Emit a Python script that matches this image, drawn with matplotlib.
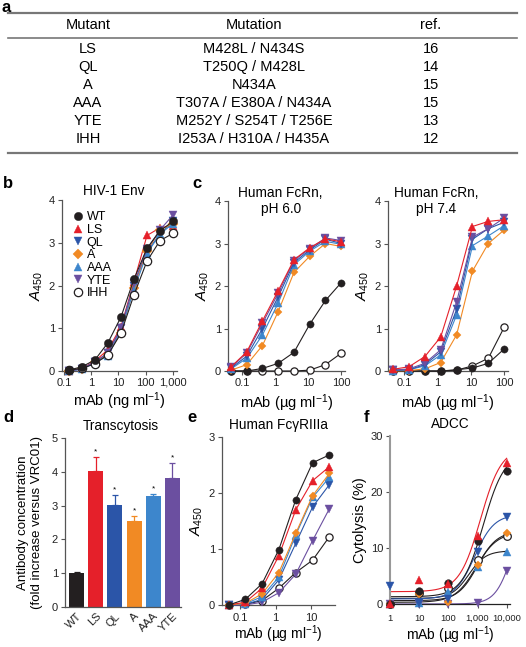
import matplotlib.pyplot as plt
import numpy as np
from matplotlib.lines import Line2D
from matplotlib.ticker import LogLocator, NullFormatter, FixedLocator, FixedFormatter

# ================= fonts =================
plt.rcParams['font.family'] = 'Liberation Sans'
plt.rcParams['mathtext.fontset'] = 'custom'
plt.rcParams['mathtext.rm'] = 'Liberation Sans'
plt.rcParams['mathtext.it'] = 'Liberation Sans:italic'
plt.rcParams['axes.linewidth'] = 0.9
plt.rcParams['axes.edgecolor'] = '#555555'
plt.rcParams['xtick.color'] = '#555555'
plt.rcParams['ytick.color'] = '#555555'
plt.rcParams['xtick.labelcolor'] = '#222222'
plt.rcParams['ytick.labelcolor'] = '#222222'
plt.rcParams['xtick.major.size'] = 3
plt.rcParams['ytick.major.size'] = 3
plt.rcParams['xtick.minor.size'] = 1.8
plt.rcParams['xtick.labelsize'] = 8
plt.rcParams['ytick.labelsize'] = 8

# ================= data =================
# a: table
table_header = ['Mutant', 'Mutation', 'ref.']
table_mutants = ['LS', 'QL', 'A', 'AAA', 'YTE', 'IHH']
table_mutations = ['M428L / N434S', 'T250Q / M428L', 'N434A',
                   'T307A / E380A / N434A', 'M252Y / S254T / T256E',
                   'I253A / H310A / H435A']
table_refs = ['16', '14', '15', '15', '13', '12']

mutants = ['WT', 'LS', 'QL', 'A', 'AAA', 'YTE', 'IHH']
colors = ['#231f20', '#e5202a', '#2b55a8', '#f18a24', '#3d86cc', '#6b4fa0', '#231f20']
markers = ['o', '^', 'v', 'D', '^', 'v', 'o']

# b: HIV-1 Env binding (ng/ml)
env_conc = [0.15, 0.46, 1.37, 4.1, 12.3, 37, 111, 333, 1000]
env_a450 = [
    [0.02, 0.10, 0.26, 0.66, 1.26, 2.15, 2.87, 3.28, 3.50],  # WT
    [0.01, 0.06, 0.23, 0.50, 1.03, 2.09, 3.17, 3.35, 3.40],  # LS
    [0.00, 0.05, 0.20, 0.42, 1.00, 2.00, 2.80, 3.20, 3.50],  # QL
    [0.00, 0.05, 0.20, 0.38, 0.90, 1.95, 2.80, 3.30, 3.45],  # A
    [0.00, 0.04, 0.20, 0.35, 0.95, 1.90, 2.75, 3.20, 3.45],  # AAA
    [0.00, 0.05, 0.22, 0.42, 1.00, 2.05, 2.85, 3.30, 3.65],  # YTE
    [0.02, 0.06, 0.17, 0.38, 0.88, 1.78, 2.57, 3.05, 3.22],  # IHH
]

# c: human FcRn (ug/ml)
fcrn_conc = [0.046, 0.137, 0.41, 1.23, 3.7, 11.1, 33.3, 100]
fcrn_ph60 = [
    [0.00, 0.00, 0.06, 0.18, 0.44, 1.10, 1.66, 2.08],  # WT
    [0.10, 0.45, 1.18, 1.89, 2.62, 2.90, 3.11, 3.04],  # LS
    [0.07, 0.35, 1.00, 1.75, 2.55, 2.85, 3.10, 3.00],  # QL
    [0.02, 0.15, 0.60, 1.40, 2.32, 2.70, 3.00, 2.93],  # A
    [0.05, 0.30, 0.85, 1.60, 2.50, 2.82, 3.05, 2.98],  # AAA
    [0.09, 0.42, 1.12, 1.83, 2.60, 2.88, 3.13, 3.07],  # YTE
    [0.00, 0.00, 0.00, 0.00, 0.00, 0.02, 0.15, 0.42],  # IHH
]
fcrn_ph74 = [
    [0.00, 0.00, 0.00, 0.00, 0.03, 0.07, 0.18, 0.52],  # WT
    [0.04, 0.10, 0.34, 0.80, 2.00, 3.40, 3.52, 3.56],  # LS
    [0.02, 0.03, 0.15, 0.45, 1.45, 3.10, 3.35, 3.50],  # QL
    [0.00, 0.01, 0.05, 0.20, 0.85, 2.35, 3.00, 3.32],  # A
    [0.01, 0.03, 0.12, 0.38, 1.32, 2.95, 3.18, 3.42],  # AAA
    [0.02, 0.05, 0.18, 0.50, 1.62, 3.15, 3.35, 3.60],  # YTE
    [0.00, 0.00, 0.00, 0.00, 0.02, 0.12, 0.30, 1.03],  # IHH
]

# d: transcytosis
bar_labels = ['WT', 'LS', 'QL', 'A', 'AAA', 'YTE']
transcytosis_mean = [1.00, 4.02, 3.02, 2.55, 3.27, 3.83]
transcytosis_err = [0.04, 0.42, 0.28, 0.13, 0.07, 0.42]

# e: human FcgRIIIa (ug/ml)
fcgr_conc = [0.046, 0.137, 0.41, 1.23, 3.7, 11.1, 33.3]
fcgr_a450 = [
    [0.00, 0.10, 0.38, 0.99, 1.88, 2.54, 2.68],  # WT
    [0.00, 0.05, 0.30, 0.88, 1.70, 2.22, 2.47],  # LS
    [0.00, 0.01, 0.10, 0.45, 1.10, 1.75, 2.15],  # QL
    [0.00, 0.03, 0.20, 0.58, 1.28, 1.95, 2.35],  # A
    [0.00, 0.02, 0.15, 0.50, 1.25, 1.92, 2.28],  # AAA
    [0.00, 0.00, 0.05, 0.22, 0.55, 1.15, 1.72],  # YTE
    [0.00, 0.01, 0.08, 0.30, 0.58, 0.80, 1.22],  # IHH
]

# f: ADCC
adcc_conc = [1, 10, 100, 1000, 10000]
adcc_lysis = [
    [0.0, 2.3, 3.7, 11.2, 23.8],  # WT
    [0.0, 4.3, 3.5, 12.2, 25.2],  # LS
    [3.2, 0.2, 0.9, 9.2, 15.6],   # QL
    [0.0, 1.8, 0.3, 6.9, 12.6],   # A
    [0.0, 0.2, 2.1, 6.6, 9.2],    # AAA
    [0.0, 0.0, 0.0, 0.2, 5.9],    # YTE
    [0.0, 1.9, 2.9, 7.8, 12.1],   # IHH
]
# sigmoidal fit parameters
adcc_bottom = [1.3, 2.2, 0.9, 0.6, 1.0, 0.0, 0.3]
adcc_top = [27.0, 28.0, 16.0, 13.0, 9.5, 18.0, 12.8]
adcc_logec50 = [3.2, 3.1, 2.9, 3.0, 2.7, 4.2, 2.95]
adcc_hill = [1.2, 1.2, 1.3, 1.3, 1.5, 1.5, 1.2]
adcc_line_colors = ['#231f20', '#e5202a', '#2b55a8', '#231f20', '#231f20', '#6b4fa0', '#231f20']

# ================= figure =================
W, H = 526, 647
fig = plt.figure(figsize=(W / 100, H / 100), dpi=100)


def px_axes(left, right, top, bottom):
    return fig.add_axes([left / W, 1 - bottom / H, (right - left) / W, (bottom - top) / H])


def style(ax):
    for s in ['top', 'right']:
        ax.spines[s].set_visible(False)
    ax.tick_params(which='both', direction='out', pad=2)


def marker_kw(i, ms):
    if mutants[i] == 'IHH':
        return dict(marker='o', ms=ms, mfc='white', mec='#231f20', mew=0.9)
    ms_i = ms * 0.8 if markers[i] == 'D' else ms
    return dict(marker=markers[i], ms=ms_i, mfc=colors[i], mec=colors[i], mew=0.3)


def letter(x, y, s):
    fig.text(x / W, 1 - y / H, s, fontsize=12, fontweight='bold', va='center', ha='left')


# ----------------- a: table -----------------
letter(2, 8, 'a')
x_cols = [88, 254, 431]
for xc, t in zip(x_cols, table_header):
    fig.text(xc / W, 1 - 25 / H, t, ha='center', va='center', fontsize=10.5)
rows = list(zip(table_mutants, table_mutations, table_refs))
for r, row in enumerate(rows):
    y = 49 + r * 18
    for xc, t in zip(x_cols, row):
        fig.text(xc / W, 1 - y / H, t, ha='center', va='center', fontsize=10.5)
for y, lw in [(13, 1.6), (38, 1.2), (153, 1.6)]:
    fig.add_artist(Line2D([8 / W, 517 / W], [1 - y / H, 1 - y / H], color='#777777', lw=lw))

# ----------------- b: HIV-1 Env -----------------
letter(3, 184, 'b')
axb = px_axes(62, 177, 200, 371)
style(axb)
for i in range(len(mutants)):
    axb.plot(env_conc, env_a450[i], color=colors[i], lw=0.8, clip_on=False,
             zorder=3 + (i == 0), **marker_kw(i, 6))
axb.set_xscale('log')
axb.set_xlim(0.085, 1400)
axb.set_ylim(0, 4)
axb.set_yticks([0, 1, 2, 3, 4])
axb.xaxis.set_major_locator(FixedLocator([0.1, 1, 10, 100, 1000]))
axb.xaxis.set_major_formatter(FixedFormatter(['0.1', '1', '10', '100', '1,000']))
axb.xaxis.set_minor_locator(LogLocator(base=10, subs=np.arange(2, 10)))
axb.xaxis.set_minor_formatter(NullFormatter())
axb.set_ylabel(r'$\mathit{A}_{450}$', fontsize=11, labelpad=3)
axb.set_xlabel(r'mAb (ng ml$^{-1}$)', fontsize=10.5, labelpad=2)
axb.text(0.45, 1.05, 'HIV-1 Env', transform=axb.transAxes, ha='center', va='center', fontsize=9.8)
handles = [Line2D([], [], ls='none', **marker_kw(i, 6)) for i in range(len(mutants))]
axb.legend(handles, mutants, loc='upper left', bbox_to_anchor=(0.02, 0.97), frameon=False,
           fontsize=9, handletextpad=0.1, labelspacing=0.05, handlelength=1.2, borderpad=0)

# ----------------- c: FcRn -----------------
letter(192, 183, 'c')


def fcrn_panel(ax, data, title, tx, left):
    style(ax)
    order = [6, 0, 3, 4, 2, 5, 1]
    for i in order:
        ax.plot(fcrn_conc, data[i], color=colors[i], lw=0.8, clip_on=False,
                zorder=3, **marker_kw(i, 5.2))
    ax.set_xscale('log')
    ax.set_xlim(left, 130)
    ax.set_ylim(0, 4)
    ax.set_yticks([0, 1, 2, 3, 4])
    ax.xaxis.set_major_locator(FixedLocator([0.1, 1, 10, 100]))
    ax.xaxis.set_major_formatter(FixedFormatter(['0.1', '1', '10', '100']))
    ax.xaxis.set_minor_locator(LogLocator(base=10, subs=np.arange(2, 10)))
    ax.xaxis.set_minor_formatter(NullFormatter())
    ax.set_ylabel(r'$\mathit{A}_{450}$', fontsize=11, labelpad=3)
    ax.set_xlabel('mAb (µg ml$^{-1}$)', fontsize=10.5, labelpad=3)
    ax.text(tx, 1.0, title, transform=ax.transAxes, ha='center', va='center',
            fontsize=9.8, linespacing=1.15)


axc1 = px_axes(228, 345, 201, 371)
fcrn_panel(axc1, fcrn_ph60, 'Human FcRn,\npH 6.0', 0.45, 0.037)
axc2 = px_axes(388, 508, 201, 371)
fcrn_panel(axc2, fcrn_ph74, 'Human FcRn,\npH 7.4', 0.40, 0.032)

# ----------------- d: transcytosis -----------------
letter(3, 418, 'd')
axd = px_axes(65, 181, 438, 607)
style(axd)
xb = np.arange(len(bar_labels))
bar_colors = colors[:6]
axd.bar(xb, transcytosis_mean, width=0.78, color=bar_colors, zorder=2)
for k in range(len(bar_labels)):
    axd.errorbar(xb[k], transcytosis_mean[k], yerr=[[0], [transcytosis_err[k]]],
                 color=bar_colors[k], capsize=2.5, elinewidth=0.9, capthick=0.9, zorder=1)
    if k > 0:
        axd.text(xb[k], transcytosis_mean[k] + transcytosis_err[k] + 0.05, '*',
                 ha='center', va='bottom', fontsize=6)
axd.set_xlim(-0.6, 5.45)
axd.set_ylim(0, 5)
axd.set_yticks([0, 1, 2, 3, 4, 5])
axd.set_xticks(xb)
axd.set_xticklabels(bar_labels, rotation=45, ha='right', rotation_mode='anchor', fontsize=8)
axd.tick_params(axis='x', length=0, pad=3)
axd.set_ylabel('Antibody concentration\n(fold increase versus VRC01)', fontsize=9.5,
               labelpad=6, linespacing=1.25)
axd.text(0.48, 1.07, 'Transcytosis', transform=axd.transAxes, ha='center', va='center', fontsize=9.8)

# ----------------- e: FcgRIIIa -----------------
letter(187, 418, 'e')
axe = px_axes(222, 335, 437, 605)
style(axe)
for i in [6, 5, 2, 4, 3, 1, 0]:
    axe.plot(fcgr_conc, fcgr_a450[i], color=colors[i], lw=0.8, clip_on=False,
             zorder=3, **marker_kw(i, 5.2))
axe.set_xscale('log')
axe.set_xlim(0.03, 48)
axe.set_ylim(0, 3)
axe.set_yticks([0, 1, 2, 3])
axe.xaxis.set_major_locator(FixedLocator([0.1, 1, 10]))
axe.xaxis.set_major_formatter(FixedFormatter(['0.1', '1', '10']))
axe.xaxis.set_minor_locator(FixedLocator([]))
axe.tick_params(axis='x', pad=3)
axe.set_ylabel(r'$\mathit{A}_{450}$', fontsize=11, labelpad=3)
axe.set_xlabel('mAb (µg ml$^{-1}$)', fontsize=10, labelpad=0)
axe.text(0.5, 1.07, 'Human FcγRIIIa', transform=axe.transAxes, ha='center', va='center', fontsize=9.8)

# ----------------- f: ADCC -----------------
letter(364, 418, 'f')
axf = px_axes(390, 510, 436, 604)
style(axf)
axf.spines['left'].set_color('#999999')
axf.spines['left'].set_linewidth(1.5)
axf.spines['bottom'].set_color('#222222')
xs = np.logspace(0, 4, 200)
for i in [6, 5, 4, 3, 2, 0, 1]:
    fit = adcc_bottom[i] + (adcc_top[i] - adcc_bottom[i]) / (
        1 + 10 ** ((adcc_logec50[i] - np.log10(xs)) * adcc_hill[i]))
    axf.plot(xs, fit, color=adcc_line_colors[i], lw=0.8, zorder=2)
    axf.plot(adcc_conc, adcc_lysis[i], ls='none', clip_on=False, zorder=3 + (i in (0, 1)),
             **marker_kw(i, 5.5))
axf.set_xscale('log')
axf.set_xlim(1, 13000)
axf.set_ylim(0, 30)
axf.set_yticks([0, 10, 20, 30])
axf.xaxis.set_major_locator(FixedLocator([1, 10, 100, 1000, 10000]))
axf.xaxis.set_major_formatter(FixedFormatter(['1', '10', '100', '1,000', '10,000']))
axf.xaxis.set_minor_locator(FixedLocator([]))
axf.tick_params(axis='x', pad=4, labelsize=6.8)
axf.set_ylabel('Cytolysis (%)', fontsize=10.5, labelpad=3)
axf.set_xlabel('mAb (µg ml$^{-1}$)', fontsize=10, labelpad=1)
axf.text(0.5, 1.07, 'ADCC', transform=axf.transAxes, ha='center', va='center', fontsize=9.8)

fig.savefig('out.png', dpi=100)
